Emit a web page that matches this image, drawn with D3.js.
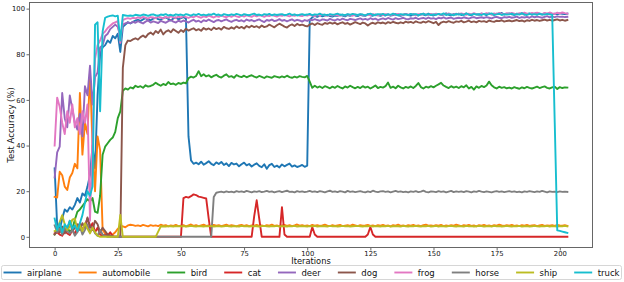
<!DOCTYPE html>
<html><head><meta charset="utf-8">
<script src="https://cdn.jsdelivr.net/npm/d3@7"></script>
<style>html,body{margin:0;padding:0;background:#fff;}svg{display:block;font-family:"DejaVu Sans",sans-serif;}</style>
</head><body>
<svg id="chart" width="624" height="282"></svg>
<script>
const classes = ["airplane","automobile","bird","cat","deer","dog","frog","horse","ship","truck"];
const colors = ["#1f77b4","#ff7f0e","#2ca02c","#d62728","#9467bd","#8c564b","#e377c2","#7f7f7f","#bcbd22","#17becf"];
const xTicks = [0,25,50,75,100,125,150,175,200];
const yTicks = [0,20,40,60,80,100];

const airplane = [
30,5,3,8,12,11,13,12,14,17,
15,19,18,22,27,40,30,62,80,83,
84,86,85,88,87,89,81,92,93,94,
93.5,94.2,94.8,95.1,94.6,95.3,95.8,95.2,94.9,95.6,
96.0,95.4,95.1,95.9,96.2,95.5,94.8,95.7,96.1,95.3,
95.8,96.3,95.6,44,33.5,32.0,32.5,31.8,32.9,31.6,
32.3,33.1,32.0,31.4,32.6,31.9,32.8,31.5,32.2,31.0,
32.4,31.7,32.1,30.9,31.8,32.5,31.3,31.9,30.8,31.6,
32.2,31.1,30.5,31.8,29.8,31.4,32.0,30.6,31.2,30.4,
31.7,30.9,31.5,32.1,30.8,31.3,30.6,31.0,31.5,30.7,
31.2,95.0,96.2,96.8,96.4,97.1,96.6,96.9,97.3,96.7,
96.5,97.0,96.8,97.4,96.9,96.6,97.2,96.8,97.5,97.0,
96.7,97.3,97.0,96.8,97.6,97.1,96.9,97.4,97.2,96.8,
97.3,97.0,97.5,96.9,97.2,97.6,97.1,96.8,97.4,97.7,
97.2,96.9,97.5,97.3,97.0,97.6,97.4,97.1,97.8,97.3,
97.0,97.5,97.7,97.2,97.4,97.9,97.3,97.1,97.6,97.4,
97.8,97.2,97.5,97.9,97.4,97.1,97.7,97.5,97.3,97.8,
97.6,97.2,97.9,97.5,97.3,97.8,97.6,98.1,97.4,97.7,
97.9,97.5,97.3,97.8,97.6,98.0,97.4,97.7,97.9,97.5,
97.8,98.1,97.6,97.4,97.9,97.7,98.0,97.6,97.8,97.5,
97.9,97.7,97.6,97.8];

const automobile = [
17.5,17.2,28.5,27,22,20.5,26,28,32,30,
63,36,50,45,72,40,20,44,38,3,
1.5,1,0.5,1,2,3.5,4.5,4.6,4.2,5.0,
5.3,5.1,4.8,5.0,4.7,5.2,4.9,4.6,5.1,4.8,
5.0,4.7,5.3,4.9,5.1,4.6,5.0,4.8,5.2,4.7,
4.9,5.1,4.6,5.0,5.4,4.8,5.1,4.7,5.0,5.3,
4.8,5.0,4.6,5.2,4.9,5.1,4.7,5.0,5.3,4.8,
5.1,4.9,4.6,5.0,5.2,4.8,5.1,4.7,5.0,4.9,
5.2,4.8,5.0,4.7,5.1,4.9,5.3,4.8,5.0,4.6,
5.0,5.2,4.8,5.1,4.7,5.0,5.4,4.9,5.1,4.8,
5.0,4.7,5.2,4.9,5.1,4.8,5.0,5.3,4.9,4.7,
5.1,4.8,5.0,5.2,4.7,4.9,5.1,4.8,5.3,5.0,
4.7,5.1,4.9,5.0,5.2,4.8,5.0,4.7,5.1,4.9,
5.2,4.8,5.0,4.6,5.1,4.9,5.3,4.8,5.0,4.7,
5.1,4.9,5.2,4.8,5.0,4.7,5.1,5.3,4.9,5.0,
4.8,5.1,4.9,5.2,4.7,5.0,4.8,5.1,4.9,5.3,
5.0,4.7,5.1,4.9,5.2,4.8,5.0,4.6,5.1,4.9,
5.2,4.8,5.0,4.7,5.1,4.9,5.3,5.0,4.8,5.1,
4.9,5.2,4.8,5.0,4.7,5.1,4.9,5.2,4.8,5.0,
5.1,4.7,5.0,5.2,4.8,5.0,4.9,5.1,4.8,5.2,
5.0,4.9,5.1,4.8];

const bird = [
1.0,2.5,3.5,1.5,2.8,4.2,2.2,3.4,7.5,11,
12,13.5,15,16.5,15.5,17,11,10.5,18,36,
39.5,41,42.5,43.5,46,52,55,64,65,64.5,
65.5,65.0,66.2,65.6,66.0,65.3,66.4,65.8,66.1,66.6,
67.5,66.8,66.2,67.0,66.5,67.8,66.9,67.2,66.6,67.4,
67.0,67.6,67.3,69.5,70.2,69.8,70.5,72.6,70.4,71.2,
70.3,70.8,69.9,70.5,71.0,70.2,69.8,70.6,71.2,70.1,
70.4,69.7,70.9,70.3,70.0,70.6,69.9,70.4,70.8,70.2,
69.8,70.5,70.1,69.6,70.3,70.0,69.7,70.4,70.1,69.8,
70.3,69.9,70.6,70.0,69.7,70.2,69.8,70.4,70.1,69.9,
70.5,68.0,65.3,66.2,65.4,65.9,65.2,66.0,65.6,65.1,
65.8,65.3,66.1,65.5,65.0,65.9,65.4,66.2,65.6,65.1,
65.7,65.2,66.0,65.4,65.8,65.0,65.6,66.3,65.2,65.7,
65.4,66.0,67.6,65.3,65.8,65.1,66.2,65.5,65.0,65.7,
65.3,65.9,65.2,66.1,67.4,65.6,65.0,65.8,65.4,66.0,
65.5,66.2,66.8,67.5,66.3,65.7,65.2,66.0,65.4,65.8,
65.2,66.0,65.5,66.4,65.0,65.7,64.5,65.9,65.3,66.1,
65.6,66.3,68.0,66.4,65.5,65.0,65.8,65.3,65.6,65.1,
65.4,65.0,65.6,65.2,64.9,65.5,65.1,65.7,65.3,65.0,
65.4,65.8,65.2,65.6,65.9,65.3,65.0,65.5,65.8,64.8,
65.6,65.2,65.5,65.4];

const cat = [
1.5,2.0,1.0,0.5,2.5,1.5,0.8,3.0,1.2,4.0,
6.0,3.0,5.0,8.0,4.0,6.0,2.0,4.0,1.0,0.5,
1.0,0.5,2.0,0.3,0,0,0,0,0,0,
0,0,0,0,0,0,0,0,0,0,
0,0,0,0,0,0,0,0,0,0,
0,17.0,17.5,17.2,17.8,18.6,18.3,17.6,17.4,17.1,
16.8,8.0,0,0,0,0,0,0,0,0,
0,0,0,0,0,0,0,0,0,9,
16.0,8.0,0,0,0,0,0,0,0,0,
13.0,1.0,0,0,0,0,0,0,0,0,
0,0,4.3,1.0,0,0,0,0,0,0,
0,0,0,0,0,0,0,0,0,0,
0,0,0,0,1.0,4.3,1.0,0,0,0,
0,0,0,0,0,0,0,0,0,0,
0,0,0,0,0,0,0,0,0,0,
0,0,0,0,0,0,0,0,0,0,
0,0,0,0,0,0,0,0,0,0,
0,0,0,0,0,0,0,0,0,0,
0,0,0,0,0,0,0,0,0,0,
0,0,0,0,0,0,0,0,0,0,
0,0,0,0];

const deer = [
26,37,39.5,63,52,48,62,56,50,47,
54,44,66,62,75,58,70,72,83,84,
88,89,91,92,93,92,88,93,93.5,94,
93.6,94.2,93.8,94.5,94.0,93.5,94.3,94.8,93.9,94.4,
94.1,93.7,94.6,94.2,93.8,94.5,95.0,94.3,93.9,94.7,
94.2,94.8,94.4,93.9,94.6,95.1,94.3,94.7,94.0,94.9,
94.5,95.2,94.6,94.1,94.8,95.0,94.4,94.9,95.3,94.6,
94.2,94.8,95.1,94.5,94.9,94.3,95.2,94.7,95.0,94.4,
94.9,95.3,94.6,94.1,95.0,94.7,95.2,94.5,94.8,95.4,
94.7,95.0,94.4,94.9,95.3,94.6,95.1,94.8,94.3,95.0,
94.6,95.2,94.9,95.4,95.0,94.7,95.3,95.1,94.8,95.5,
95.1,94.8,95.4,95.0,95.6,95.2,94.9,95.5,95.3,95.0,
95.4,95.7,95.2,95.5,95.1,95.8,95.3,95.6,95.0,95.4,
95.7,95.3,95.9,95.5,95.2,95.8,95.4,95.6,96.0,95.5,
95.3,95.8,95.6,96.0,95.4,95.7,95.9,95.5,96.1,95.6,
95.8,95.4,96.0,95.7,96.2,95.6,95.9,96.1,95.5,95.8,
96.0,95.7,96.2,95.9,95.6,96.1,96.3,95.8,96.0,96.2,
95.9,96.3,96.0,95.7,96.2,96.4,96.0,95.8,96.3,96.1,
96.4,96.0,96.2,96.5,95.9,96.3,96.1,96.4,96.0,96.6,
96.2,96.5,96.3,96.0,96.4,96.7,96.2,96.5,96.3,96.6,
96.4,96.5,96.3,96.4];

const dog = [
1.0,3.0,2.0,4.5,1.5,3.0,7.0,2.5,4.0,5.5,
3.0,6.0,4.0,8.5,5.0,3.0,7.0,5.5,2.0,4.0,
2.5,1.0,0.5,0.2,0,0,0,74,84,86,
85.8,86.5,87.0,86.4,87.5,88.2,87.4,88.8,89.5,88.6,
90.2,89.3,90.8,88.7,89.9,90.5,89.6,91.0,90.2,89.4,
90.6,89.8,91.2,90.4,90.9,91.4,90.5,91.0,90.3,91.5,
90.8,91.3,90.6,91.7,91.0,91.5,90.8,92.0,91.4,91.1,
91.8,91.2,92.2,91.5,92.0,91.3,92.4,91.7,92.5,91.9,
92.3,91.6,92.6,91.9,92.2,93.0,92.4,91.8,92.7,93.4,
92.8,92.1,91.7,92.6,93.1,92.4,93.3,92.7,93.0,92.5,
92.2,93.0,93.5,92.8,93.6,93.2,92.9,93.7,93.3,93.9,
93.4,93.8,93.1,93.6,94.0,93.3,93.7,93.0,93.5,94.1,
93.6,93.2,93.9,93.5,92.6,93.4,93.8,93.3,94.0,93.6,
93.9,93.4,94.1,93.7,94.2,93.8,93.5,94.0,93.6,94.3,
93.9,94.2,93.7,94.4,94.0,93.8,94.3,93.9,94.5,94.1,
93.6,94.2,92.8,93.9,94.3,94.0,94.5,94.1,93.8,94.4,
94.2,94.6,94.0,94.3,94.7,94.1,94.4,94.0,94.6,94.3,
94.5,94.1,94.8,94.4,94.2,94.7,94.5,94.9,94.3,94.6,
94.8,94.4,94.7,95.0,94.5,94.8,94.3,94.9,94.6,95.1,
94.7,95.0,94.6,94.9,95.2,94.8,95.1,94.7,95.0,95.3,
94.8,95.1,94.7,95.0];

const frog = [
40,61,57,50,45,55,50,58,48,52,
45,55,50,58,7,45,78,84,86,89,
90,91.5,92.5,93.5,94,94.5,85,95,95.5,95.8,
95.5,96.0,95.7,96.2,95.8,96.4,96.0,95.6,96.3,96.1,
95.8,96.5,96.1,95.7,96.4,96.0,96.6,96.2,95.9,96.5,
96.1,96.7,96.3,95.9,96.5,96.2,96.8,96.4,96.0,96.6,
96.3,96.9,96.5,96.1,96.7,96.4,97.0,96.5,96.2,96.8,
96.4,97.0,96.6,96.3,96.9,96.5,97.1,96.7,96.4,97.0,
96.6,97.1,96.8,96.4,97.0,96.7,97.2,96.8,96.5,97.1,
96.8,97.2,96.9,96.6,97.1,96.8,97.3,96.9,96.7,97.2,
96.9,97.3,97.0,96.7,97.2,96.9,97.4,97.0,96.8,97.3,
97.0,97.4,97.1,96.8,97.3,97.0,97.5,97.1,96.9,97.4,
97.1,97.5,97.2,96.9,97.4,97.1,97.6,97.2,97.0,97.5,
97.2,97.6,97.3,97.0,97.5,97.2,97.7,97.3,97.1,97.6,
97.3,97.7,97.4,97.1,97.6,97.3,97.8,97.4,97.2,97.7,
97.4,97.8,97.5,97.2,97.7,97.4,97.9,97.5,97.3,97.8,
97.5,97.9,97.6,97.3,97.8,97.5,98.0,97.6,97.4,97.9,
97.6,98.0,97.7,97.4,97.9,97.6,98.1,97.7,97.5,98.0,
97.7,98.1,97.8,97.5,98.0,97.7,98.2,97.8,97.6,98.1,
97.8,98.2,97.9,97.6,98.1,97.8,98.3,97.9,97.7,98.2,
97.9,98.3,98.0,97.8];

const horse = [
5.0,2.0,3.5,1.0,4.0,2.5,1.5,3.0,0.5,2.0,
4.5,1.0,3.0,5.5,2.0,4.0,1.5,0.5,3.0,1.0,
0.5,0,0,0,0,0,0,0,0,0,
0,0,0,0,0,0,0,0,0,0,
0,0,0,0,0,0,0,0,0,0,
0,0,0,0,0,0,0,0,0,0,
0,0,0,17.5,19.3,19.6,19.8,19.5,19.9,19.6,
19.8,19.5,20.0,19.7,19.9,19.6,20.1,19.8,19.5,19.9,
19.7,20.0,19.6,19.8,20.1,19.7,19.9,19.5,19.8,20.0,
19.6,19.9,20.2,19.7,19.8,19.5,20.0,19.7,19.9,19.6,
19.8,20.1,19.7,19.9,19.6,20.0,19.8,19.5,19.9,20.2,
19.7,19.9,19.6,20.0,19.8,19.5,20.1,19.7,19.9,19.6,
19.8,20.0,19.7,19.5,19.9,19.6,20.2,19.8,19.6,19.9,
20.0,19.7,19.9,19.5,19.8,20.1,19.7,19.9,19.6,19.8,
19.5,19.9,19.7,20.0,19.6,19.8,20.2,19.7,19.5,19.9,
19.8,19.6,20.0,19.7,19.9,19.5,19.8,20.1,19.6,19.9,
19.7,19.9,19.6,20.0,19.8,19.5,19.9,19.7,20.1,19.8,
19.6,19.9,19.7,19.5,19.8,20.0,19.7,19.9,19.6,19.8,
20.0,19.7,19.9,19.6,19.8,19.5,19.9,19.7,20.0,19.8,
19.6,19.9,19.7,20.1,19.8,19.5,19.9,19.7,19.8,19.6,
19.9,19.7,19.8,19.7];

const ship = [
2.5,3.0,6.5,9.5,5.5,3.0,4.5,7.5,8.0,3.0,
5.0,2.5,6.0,3.5,1.5,4.0,2.0,0.5,0,0,
0,0,0,0,0,0,9.6,0,0,0,
0,0,0,0,0,0,0,0,0,0,
0,2.3,4.5,4.6,4.5,4.7,4.6,4.5,4.7,4.6,
4.6,4.7,4.5,4.6,4.8,4.6,4.5,4.7,4.6,4.5,
4.7,4.6,4.8,4.5,4.6,4.7,4.5,4.6,4.8,4.6,
4.5,4.7,4.6,4.5,4.8,4.6,4.7,4.5,4.6,4.7,
4.6,4.5,4.7,4.8,4.6,4.5,4.7,4.6,4.8,4.5,
4.7,4.6,4.5,4.7,4.6,4.8,4.5,4.6,4.7,4.6,
4.5,4.7,4.6,4.8,4.5,4.6,4.7,4.6,4.5,4.8,
4.6,4.7,4.5,4.6,4.8,4.6,4.7,4.5,4.6,4.7,
4.8,4.6,4.5,4.7,4.6,4.8,4.5,4.7,4.6,4.5,
4.7,4.6,4.8,4.5,4.6,4.7,4.6,4.5,4.8,4.6,
4.5,4.7,4.6,4.8,4.6,4.5,4.7,4.6,4.8,4.5,
4.6,4.8,4.5,4.7,4.6,4.5,4.7,4.8,4.6,4.5,
4.7,4.6,4.5,4.8,4.6,4.7,4.5,4.6,4.8,4.7,
4.5,4.6,4.7,4.5,4.8,4.6,4.7,4.5,4.6,4.8,
4.6,4.5,4.7,4.6,4.8,4.5,4.6,4.7,4.5,4.6,
4.8,4.6,4.5,4.7,4.6,4.8,4.5,4.7,4.6,4.5,
4.7,4.6,4.8,4.6];

const truck = [
8.0,3.0,6.0,2.0,5.5,4.0,7.0,3.5,5.0,2.5,
6.0,9.5,15,20,18,22,93,94,55,90,
96,96.5,96.8,97,96.6,96.9,86,97.2,97.0,96.8,
97.0,96.8,97.3,97.1,96.9,97.4,97.2,96.8,97.3,97.5,
97.1,96.9,97.4,97.2,97.6,97.0,97.3,96.9,97.5,97.2,
97.4,97.0,97.6,97.3,96.9,97.5,97.2,97.7,97.1,97.4,
97.0,97.5,97.3,97.8,97.2,97.4,96.9,97.6,97.3,97.1,
97.5,97.2,97.7,97.4,97.0,97.6,97.3,97.1,97.5,97.8,
97.2,97.4,97.0,97.6,97.3,97.7,97.1,97.5,97.2,97.4,
97.6,97.1,97.4,97.8,97.2,97.5,97.0,97.3,97.6,97.2,
97.4,97.7,97.1,97.5,97.3,97.8,97.2,97.4,97.0,97.6,
97.3,97.5,97.8,97.2,97.4,97.1,97.6,97.3,97.7,97.5,
97.2,97.6,97.4,97.0,97.5,97.8,97.3,97.1,97.6,97.4,
97.7,97.2,97.5,97.3,97.8,97.4,97.1,97.6,97.3,97.5,
97.2,97.7,97.4,97.6,97.1,97.5,97.8,97.3,97.6,97.2,
97.5,97.3,97.7,97.4,97.9,97.2,97.6,97.4,97.1,97.7,
97.4,97.6,97.2,97.8,97.5,97.3,97.7,97.4,97.6,97.2,
97.7,97.4,97.6,97.9,97.3,97.5,97.8,97.2,97.6,97.4,
97.5,97.8,97.3,97.6,97.4,97.9,97.5,97.2,97.7,97.4,
97.6,97.3,97.8,97.5,97.4,97.7,97.5,97.3,50.0,2.8,
2.6,2.3,2.0,1.7];

const seriesValues = [airplane, automobile, bird, cat, deer, dog, frog, horse, ship, truck];

const svg = d3.select("#chart");
const W = 624, H = 282;
const plot = {left: 29, right: 593, top: 2, bottom: 248};

const x = d3.scaleLinear().domain([-10.15, 213.15]).range([plot.left, plot.right]);
const y = d3.scaleLinear().domain([-4.9, 102.9]).range([plot.bottom, plot.top]);

svg.append("rect").attr("x",0).attr("y",0).attr("width",W).attr("height",H).attr("fill","#fff");

svg.append("defs").append("clipPath").attr("id","clip")
  .append("rect").attr("x",plot.left).attr("y",plot.top)
  .attr("width",plot.right-plot.left).attr("height",plot.bottom-plot.top);

const line = d3.line().x((d,i)=>x(i)).y(d=>y(d));
const g = svg.append("g").attr("clip-path","url(#clip)");
seriesValues.forEach((vals,k)=>{
  g.append("path").datum(vals).attr("d",line)
    .attr("fill","none").attr("stroke",colors[k]).attr("stroke-width",1.9)
    .attr("stroke-linejoin","round").attr("stroke-linecap","square");
});

// axes
const xAxis = d3.axisBottom(x).tickValues(xTicks).tickSize(2.5).tickPadding(0.5).tickFormat(d3.format("d"));
const yAxis = d3.axisLeft(y).tickValues(yTicks).tickSize(2.5).tickPadding(1.5).tickFormat(d3.format("d"));
const gx = svg.append("g").attr("transform",`translate(0,${plot.bottom})`).call(xAxis);
const gy = svg.append("g").attr("transform",`translate(${plot.left},0)`).call(yAxis);
[gx,gy].forEach(a=>{
  a.select(".domain").remove();
  a.selectAll(".tick line").attr("stroke","#444").attr("stroke-width",0.8);
  a.selectAll(".tick text").attr("fill","#111").style("font-size","6.8px").style("font-family","DejaVu Sans");
});

svg.append("rect").attr("x",plot.left+0.5).attr("y",plot.top+0.5)
  .attr("width",plot.right-plot.left-1).attr("height",plot.bottom-plot.top-1)
  .attr("fill","none").attr("stroke","#666").attr("stroke-width",1);

svg.append("text").attr("x",(plot.left+plot.right)/2).attr("y",264.3)
  .attr("text-anchor","middle").style("font-size","8.3px").attr("fill","#111").text("Iterations");
svg.append("text").attr("transform",`translate(11,${(plot.top+plot.bottom)/2}) rotate(-90)`)
  .attr("text-anchor","middle").attr("dominant-baseline","middle")
  .style("font-size","8.5px").attr("fill","#111").text("Test Accuracy (%)");

// legend
const leg = svg.append("g");
const legBox = {x: 1.5, y: 265.5, w: 620, h: 14};
leg.append("rect").attr("x",legBox.x).attr("y",legBox.y).attr("width",legBox.w).attr("height",legBox.h)
  .attr("rx",2).attr("fill","#fff").attr("stroke","#ccc").attr("stroke-width",0.8);
const items = leg.selectAll("g.item").data(classes).join("g").attr("class","item");
items.append("line").attr("x1",0).attr("x2",18).attr("y1",0).attr("y2",0)
  .attr("stroke",(d,i)=>colors[i]).attr("stroke-width",1.9);
items.append("text").attr("x",23.5).attr("y",0).attr("dominant-baseline","central")
  .style("font-size","8.5px").attr("fill","#111").text(d=>d);
const widths = [];
items.each(function(){ widths.push(23.5 + d3.select(this).select("text").node().getComputedTextLength()); });
const startX = 3.5, endX = 619.5;
const gap = (endX - startX - d3.sum(widths)) / (classes.length - 1);
let cx = startX;
items.each(function(d,i){
  d3.select(this).attr("transform",`translate(${cx},272.5)`);
  cx += widths[i] + gap;
});
</script>
</body></html>
